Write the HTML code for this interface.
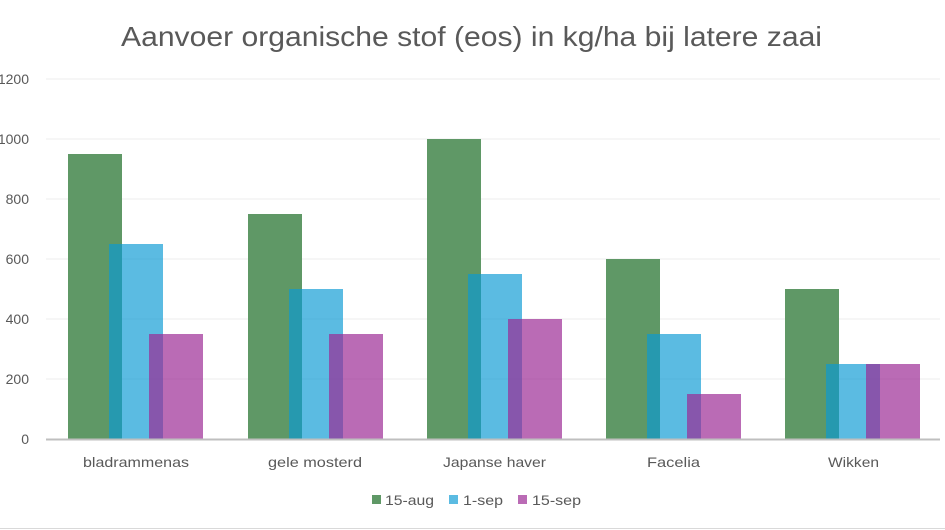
<!DOCTYPE html>
<html><head><meta charset="utf-8"><style>
body{margin:0;background:#fff;}
svg{display:block;font-family:"Liberation Sans",sans-serif;}
</style></head><body>
<svg width="945" height="530" viewBox="0 0 945 530">
<rect x="0" y="0" width="945" height="530" fill="#fff"/>
<line x1="0" y1="528.5" x2="945" y2="528.5" stroke="#d9d9d9"/>
<text x="121" y="46" font-size="28" fill="#595959" textLength="701" lengthAdjust="spacingAndGlyphs">Aanvoer organische stof (eos) in kg/ha bij latere zaai</text>
<g stroke="#ececec" stroke-width="1">
<line x1="46" y1="79" x2="940" y2="79"/>
<line x1="46" y1="139" x2="940" y2="139"/>
<line x1="46" y1="199" x2="940" y2="199"/>
<line x1="46" y1="259" x2="940" y2="259"/>
<line x1="46" y1="319" x2="940" y2="319"/>
<line x1="46" y1="379" x2="940" y2="379"/>
</g>
<g font-size="14" fill="#595959" text-anchor="end">
<text x="29" y="84">1200</text>
<text x="29" y="144">1000</text>
<text x="29" y="204">800</text>
<text x="29" y="264">600</text>
<text x="29" y="324">400</text>
<text x="29" y="384">200</text>
<text x="29" y="444">0</text>
</g>
<g>
<rect x="68" y="154" width="54" height="285" fill="#5f9866"/>
<rect x="109" y="244" width="54" height="195" fill="rgba(10,154,212,0.67)"/>
<rect x="149" y="334" width="54" height="105" fill="rgba(155,41,148,0.69)"/>
<rect x="248" y="214" width="54" height="225" fill="#5f9866"/>
<rect x="289" y="289" width="54" height="150" fill="rgba(10,154,212,0.67)"/>
<rect x="329" y="334" width="54" height="105" fill="rgba(155,41,148,0.69)"/>
<rect x="427" y="139" width="54" height="300" fill="#5f9866"/>
<rect x="468" y="274" width="54" height="165" fill="rgba(10,154,212,0.67)"/>
<rect x="508" y="319" width="54" height="120" fill="rgba(155,41,148,0.69)"/>
<rect x="606" y="259" width="54" height="180" fill="#5f9866"/>
<rect x="647" y="334" width="54" height="105" fill="rgba(10,154,212,0.67)"/>
<rect x="687" y="394" width="54" height="45" fill="rgba(155,41,148,0.69)"/>
<rect x="785" y="289" width="54" height="150" fill="#5f9866"/>
<rect x="826" y="364" width="54" height="75" fill="rgba(10,154,212,0.67)"/>
<rect x="866" y="364" width="54" height="75" fill="rgba(155,41,148,0.69)"/>
</g>
<line x1="46" y1="439.5" x2="940" y2="439.5" stroke="#bfbfbf" stroke-width="2"/>
<g font-size="14" fill="#595959">
<text x="83" y="467" textLength="106" lengthAdjust="spacingAndGlyphs">bladrammenas</text>
<text x="268" y="467" textLength="94" lengthAdjust="spacingAndGlyphs">gele mosterd</text>
<text x="443" y="467" textLength="103" lengthAdjust="spacingAndGlyphs">Japanse haver</text>
<text x="647" y="467" textLength="53" lengthAdjust="spacingAndGlyphs">Facelia</text>
<text x="828" y="467" textLength="51" lengthAdjust="spacingAndGlyphs">Wikken</text>
</g>
<g font-size="14" fill="#595959">
<rect x="372" y="495" width="9" height="9" fill="#5f9866"/>
<text x="385" y="505" textLength="49" lengthAdjust="spacingAndGlyphs">15-aug</text>
<rect x="449" y="495" width="9" height="9" fill="#5bbbe2"/>
<text x="463" y="505" textLength="40" lengthAdjust="spacingAndGlyphs">1-sep</text>
<rect x="518" y="495" width="9" height="9" fill="#ba6bb5"/>
<text x="532" y="505" textLength="49" lengthAdjust="spacingAndGlyphs">15-sep</text>
</g>
</svg>
</body></html>
